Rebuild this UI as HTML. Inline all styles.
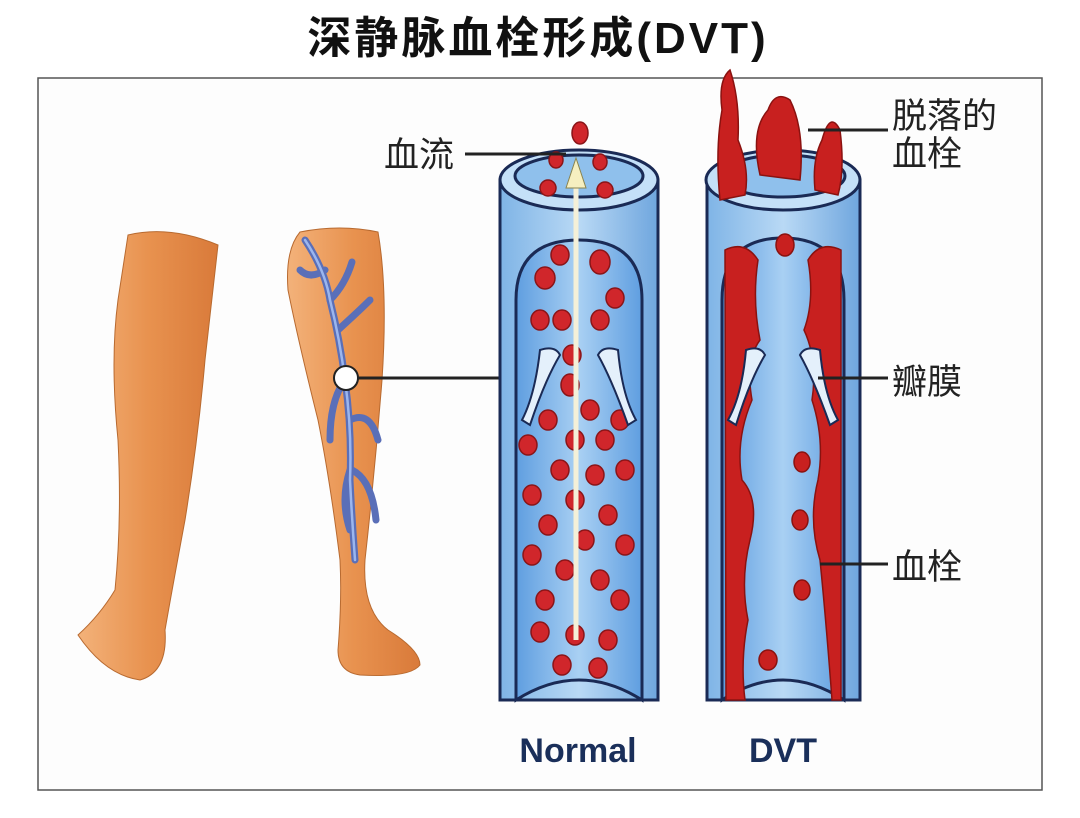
<!DOCTYPE html>
<html><head><meta charset="utf-8"><style>
html,body{margin:0;padding:0;background:#fff;}
body{width:1080px;height:813px;overflow:hidden;position:relative;font-family:"Liberation Sans","Noto Sans CJK SC",sans-serif;}
</style></head><body>
<svg width="1080" height="813" viewBox="0 0 1080 813" xmlns="http://www.w3.org/2000/svg">
<defs>
<linearGradient id="leg" x1="0" x2="1"><stop offset="0" stop-color="#f3b27a"/><stop offset="0.5" stop-color="#e8924f"/><stop offset="1" stop-color="#d97a3a"/></linearGradient>
<linearGradient id="ves" x1="0" x2="1"><stop offset="0" stop-color="#7fb4e6"/><stop offset="0.5" stop-color="#b9d9f5"/><stop offset="1" stop-color="#6fa6de"/></linearGradient>
<linearGradient id="inn" x1="0" x2="1"><stop offset="0" stop-color="#5f9ee0"/><stop offset="0.5" stop-color="#a9d0f3"/><stop offset="1" stop-color="#5f9ee0"/></linearGradient>
</defs>
<text x="538" y="53" text-anchor="middle" font-size="44" font-weight="bold" fill="#111" letter-spacing="3" font-family="Liberation Sans, Noto Sans CJK SC, sans-serif">深静脉血栓形成(DVT)</text>
<rect x="38" y="78" width="1004" height="712" fill="#fdfdfd" stroke="#555" stroke-width="1.5"/>
<!-- left leg -->
<path d="M128 235 Q170 225 218 245 Q212 300 205 360 Q198 440 185 520 Q172 590 165 630 Q168 672 140 680 Q105 675 78 635 Q100 615 115 590 Q122 520 118 440 Q110 360 118 300 Z" fill="url(#leg)" stroke="#b86a30" stroke-width="1"/>
<!-- right leg -->
<path d="M300 232 Q340 224 378 232 Q388 290 382 380 Q375 470 365 560 Q362 610 388 630 Q420 650 420 665 Q410 678 360 675 Q338 672 338 650 Q342 600 340 560 Q330 480 318 420 Q298 340 288 290 Q285 250 300 232 Z" fill="url(#leg)" stroke="#b86a30" stroke-width="1"/>
<g fill="none" stroke="#5a6fb8" stroke-width="7" stroke-linecap="round">
<path d="M305 240 Q325 270 330 300 Q340 340 345 380 Q352 430 350 480 Q352 520 355 560"/>
<path d="M330 300 Q345 285 352 262"/><path d="M325 270 Q310 280 300 270"/>
<path d="M338 330 Q360 310 370 300"/><path d="M345 380 Q330 400 330 440"/>
<path d="M350 420 Q370 410 378 440"/><path d="M350 470 Q340 500 350 530"/><path d="M352 470 Q372 480 376 520"/>
</g>
<g fill="none" stroke="#9bb6ee" stroke-width="2.5" stroke-linecap="round">
<path d="M305 240 Q325 270 330 300 Q340 340 345 380 Q352 430 350 480 Q352 520 355 560"/>
</g>
<circle cx="346" cy="378" r="12" fill="#fff" stroke="#222" stroke-width="2"/>
<line x1="358" y1="378" x2="500" y2="378" stroke="#222" stroke-width="3"/>
<!-- normal vessel -->
<g stroke="#1a2a55" stroke-width="3">
<path d="M500 180 L500 700 L658 700 L658 180 Z" fill="url(#ves)"/>
<ellipse cx="579" cy="180" rx="79" ry="30" fill="#c4e0f8"/>
<ellipse cx="579" cy="176" rx="64" ry="21" fill="#8fc0ec"/>
<path d="M516 700 L516 300 Q516 240 579 240 Q642 240 642 300 L642 700 Q579 660 516 700 Z" fill="url(#inn)"/>
</g>
<g fill="#d0262b" stroke="#8a1518" stroke-width="1.5">
<ellipse cx="580" cy="133" rx="8" ry="11"/><ellipse cx="556" cy="160" rx="7" ry="8"/><ellipse cx="600" cy="162" rx="7" ry="8"/><ellipse cx="548" cy="188" rx="8" ry="8"/><ellipse cx="605" cy="190" rx="8" ry="8"/>
<ellipse cx="560" cy="255" rx="9" ry="10"/><ellipse cx="545" cy="278" rx="10" ry="11"/><ellipse cx="600" cy="262" rx="10" ry="12"/><ellipse cx="540" cy="320" rx="9" ry="10"/><ellipse cx="562" cy="320" rx="9" ry="10"/><ellipse cx="600" cy="320" rx="9" ry="10"/><ellipse cx="615" cy="298" rx="9" ry="10"/>
<ellipse cx="572" cy="355" rx="9" ry="10"/><ellipse cx="570" cy="385" rx="9" ry="11"/><ellipse cx="590" cy="410" rx="9" ry="10"/><ellipse cx="548" cy="420" rx="9" ry="10"/><ellipse cx="620" cy="420" rx="9" ry="10"/>
<ellipse cx="528" cy="445" rx="9" ry="10"/><ellipse cx="575" cy="440" rx="9" ry="10"/><ellipse cx="605" cy="440" rx="9" ry="10"/><ellipse cx="560" cy="470" rx="9" ry="10"/><ellipse cx="595" cy="475" rx="9" ry="10"/><ellipse cx="625" cy="470" rx="9" ry="10"/>
<ellipse cx="532" cy="495" rx="9" ry="10"/><ellipse cx="575" cy="500" rx="9" ry="10"/><ellipse cx="608" cy="515" rx="9" ry="10"/><ellipse cx="548" cy="525" rx="9" ry="10"/><ellipse cx="585" cy="540" rx="9" ry="10"/><ellipse cx="625" cy="545" rx="9" ry="10"/>
<ellipse cx="532" cy="555" rx="9" ry="10"/><ellipse cx="565" cy="570" rx="9" ry="10"/><ellipse cx="600" cy="580" rx="9" ry="10"/><ellipse cx="545" cy="600" rx="9" ry="10"/><ellipse cx="620" cy="600" rx="9" ry="10"/>
<ellipse cx="575" cy="635" rx="9" ry="10"/><ellipse cx="540" cy="632" rx="9" ry="10"/><ellipse cx="608" cy="640" rx="9" ry="10"/><ellipse cx="562" cy="665" rx="9" ry="10"/><ellipse cx="598" cy="668" rx="9" ry="10"/>
</g>
<g fill="#e4f0fb" stroke="#1a2a55" stroke-width="2">
<path d="M522 420 Q535 395 540 350 Q555 345 560 355 Q545 380 530 425 Z"/>
<path d="M636 420 Q622 395 618 350 Q603 345 598 355 Q612 380 628 425 Z"/>
</g>
<line x1="576" y1="185" x2="576" y2="640" stroke="#f4f0d8" stroke-width="5"/>
<path d="M576 158 L586 188 L566 188 Z" fill="#f6efc0" stroke="#8a8450" stroke-width="1"/>
<line x1="465" y1="154" x2="566" y2="154" stroke="#222" stroke-width="3"/>
<text x="384" y="167" font-size="35" fill="#222">血流</text>
<!-- DVT vessel -->
<g stroke="#1a2a55" stroke-width="3">
<path d="M707 180 L707 700 L860 700 L860 180 Z" fill="url(#ves)"/>
<ellipse cx="783" cy="180" rx="77" ry="30" fill="#c4e0f8"/>
<ellipse cx="783" cy="176" rx="62" ry="21" fill="#8fc0ec"/>
<path d="M722 700 L722 300 Q722 238 783 238 Q844 238 844 300 L844 700 Q783 660 722 700 Z" fill="url(#inn)"/>
</g>
<g fill="#c8201f" stroke="#8a1210" stroke-width="1.5">
<path d="M725 250 Q745 240 758 260 Q752 300 760 340 Q745 360 752 400 Q735 440 742 480 Q760 500 750 540 Q740 580 748 620 Q740 660 745 700 L726 700 Z"/>
<path d="M841 250 Q820 240 808 260 Q815 300 804 330 Q818 360 812 400 Q825 440 818 480 Q808 520 820 560 Q826 620 832 700 L841 700 Z"/>
<path d="M720 200 Q715 150 722 110 Q718 80 730 70 Q740 100 738 140 Q750 170 745 195 Z"/>
<path d="M760 175 Q750 130 768 110 Q775 90 790 100 Q805 130 800 180 Z"/>
<path d="M815 190 Q812 160 822 140 Q830 110 840 130 Q845 170 838 195 Z"/>
<ellipse cx="785" cy="245" rx="9" ry="11"/><ellipse cx="802" cy="462" rx="8" ry="10"/><ellipse cx="800" cy="520" rx="8" ry="10"/><ellipse cx="802" cy="590" rx="8" ry="10"/><ellipse cx="768" cy="660" rx="9" ry="10"/>
</g>
<g fill="#e4f0fb" stroke="#1a2a55" stroke-width="2">
<path d="M728 420 Q742 395 746 350 Q760 345 765 355 Q750 380 736 425 Z"/>
<path d="M838 420 Q824 395 820 350 Q805 345 800 355 Q814 380 830 425 Z"/>
</g>
<line x1="808" y1="130" x2="888" y2="130" stroke="#222" stroke-width="3"/>
<text x="892" y="128" font-size="35" fill="#222">脱落的</text>
<text x="892" y="166" font-size="35" fill="#222">血栓</text>
<line x1="818" y1="378" x2="888" y2="378" stroke="#222" stroke-width="3"/>
<text x="892" y="394" font-size="35" fill="#222">瓣膜</text>
<line x1="820" y1="564" x2="888" y2="564" stroke="#222" stroke-width="3"/>
<text x="892" y="579" font-size="35" fill="#222">血栓</text>
<text x="578" y="762" text-anchor="middle" font-size="34" font-weight="bold" fill="#1a2f5a">Normal</text>
<text x="783" y="762" text-anchor="middle" font-size="34" font-weight="bold" fill="#1a2f5a">DVT</text>
</svg>
</body></html>
